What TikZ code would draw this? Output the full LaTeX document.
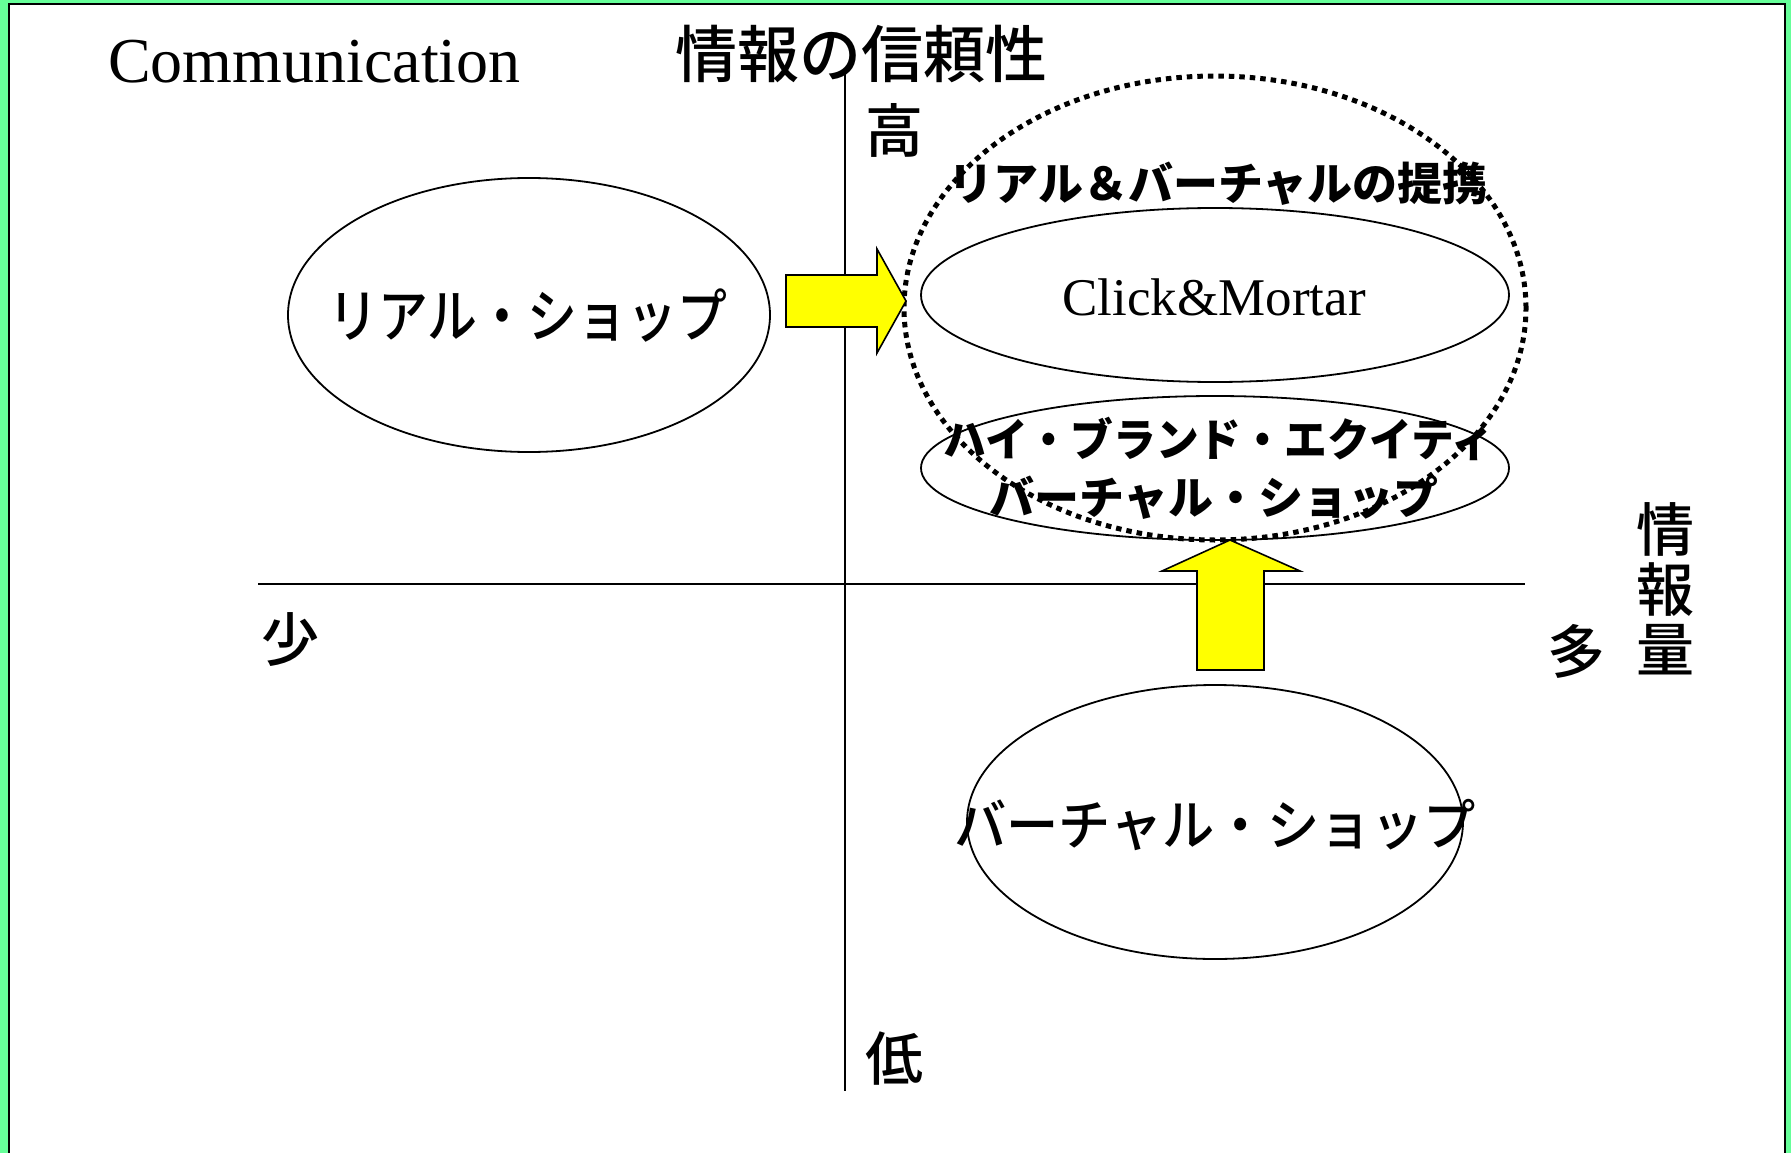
\documentclass[tikz,border=0pt]{standalone}
\usepackage{graphicx}
\usepackage{fontspec}
\setmainfont{Liberation Serif}
\newfontfamily\jp{Noto Sans CJK JP Medium}
\newfontfamily\jpbold{Noto Sans CJK JP}
\usetikzlibrary{shapes.geometric}
\definecolor{framegreen}{HTML}{66FF99}
\definecolor{arrowyellow}{HTML}{FFFF00}
\begin{document}
\begin{tikzpicture}[x=1pt,y=-1pt,
  ell/.style={draw, ellipse, line width=1.8pt, inner sep=0pt},
  axis/.style={line width=1.8pt},
  dotell/.style={draw, ellipse, line width=5pt, dash pattern=on 5.5pt off 5pt, inner sep=0pt},
  blockarrow/.style={fill=arrowyellow, draw=black, line width=1.6pt, line join=miter},
  kanji/.style={font=\jp\fontsize{58}{60}\selectfont, inner sep=0pt},
  bigjp/.style={font=\jp\fontsize{58}{60}\selectfont, inner sep=0pt},
  boldjp/.style={font=\jpbold\bfseries\fontsize{45}{56}\selectfont, inner sep=0pt, align=center},
  serif/.style={font=\fontsize{64}{70}\selectfont, inner sep=0pt}]
\useasboundingbox (0,0) rectangle (1791,1153);
\fill[framegreen] (0,0) rectangle (1791,1153);
\fill[white] (9,4) rectangle (1785,1153);
\draw[line width=2.2pt] (9,1153) -- (9,4) -- (1785,4) -- (1785,1153);

% axes
\coordinate (vtop) at (845,74);
\coordinate (vbot) at (845,1091);
\coordinate (hl) at (258,584);
\coordinate (hr) at (1525,584);
\draw[axis] (vtop) -- (vbot);
\draw[axis] (hl) -- (hr);

% titles and axis labels
\node[serif, anchor=base west] (comm) at (108,83) {Communication};
\node[kanji, font=\jp\fontsize{62}{64}\selectfont] (trust) at (861,54) {情報の信頼性};
\node[kanji] (high) at (894,130) {高};
\node[kanji] (low) at (894,1059) {低};
\node[kanji] (few) at (290,640) {少};
\node[kanji] (many) at (1576,651) {多};
\node[kanji, align=center, font=\jp\fontsize{58}{60}\selectfont] (amount) at (1665,589) {情\\報\\量};

% ellipses
\node[ell, minimum width=482pt, minimum height=274pt] (real) at (529,315) {};
\node[bigjp] (realt) at (528,316) {\scalebox{0.86}[1]{リアル・ショップ}};

\node[ell, minimum width=588pt, minimum height=174pt] (cm) at (1215,295) {};
\node[font=\fontsize{53}{60}\selectfont, inner sep=0pt] (cmt) at (1214,297) {Click\&Mortar};

\node[ell, minimum width=588pt, minimum height=144pt] (hb) at (1215,468) {};
\node[boldjp] (hbt1) at (1219,439) {\scalebox{0.95}[1]{ハイ・ブランド・エクイティ}};
\node[boldjp] (hbt2) at (1214,498) {バーチャル・ショップ};

\node[boldjp] (alliance) at (1218,184) {リアル＆バーチャルの提携};

\node[dotell, minimum width=622pt, minimum height=464pt] (alli) at (1215,308) {};

\node[ell, minimum width=496pt, minimum height=274pt] (virt) at (1215,822) {};
\node[bigjp, font=\jp\fontsize{55}{60}\selectfont] (virtt) at (1215,825) {\scalebox{0.95}[1]{バーチャル・ショップ}};

% block arrows
\draw[blockarrow] (786,275) -- (877,275) -- (877,249) -- (906,301) -- (877,353) -- (877,327) -- (786,327) -- cycle;
\draw[blockarrow] (1197,670) -- (1197,571) -- (1162,571) -- (1230,540) -- (1300,571) -- (1264,571) -- (1264,670) -- cycle;
\end{tikzpicture}
\end{document}
